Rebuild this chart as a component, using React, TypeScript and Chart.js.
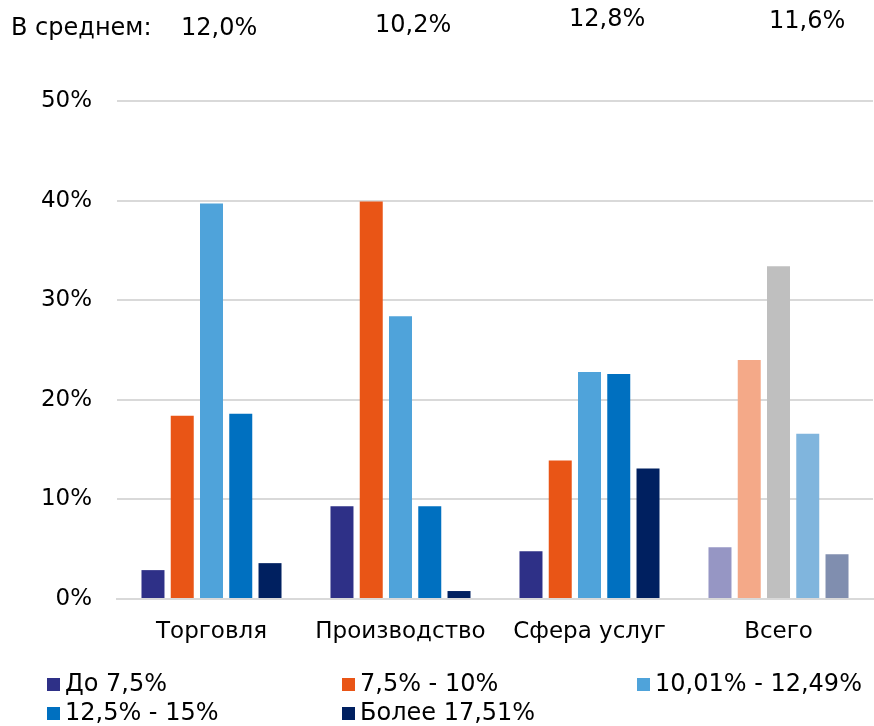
import React, { useEffect, useRef } from "react";
import { Chart, registerables } from "chart.js";

Chart.register(...registerables);

const categories = ["Торговля", "Производство", "Сфера услуг", "Всего"];
const seriesNames = ["До 7,5%", "7,5% - 10%", "10,01% - 12,49%", "12,5% - 15%", "Более 17,51%"];
const upTo75 = [2.9, 9.3, 4.8, 5.2];
const from75to10 = [18.4, 39.9, 13.9, 24.0];
const from1001to1249 = [39.7, 28.4, 22.8, 33.4];
const from125to15 = [18.6, 9.3, 22.6, 16.6];
const over1751 = [3.6, 0.8, 13.1, 4.5];
const averagesLabel = "В среднем:";
const averages = ["12,0%", "10,2%", "12,8%", "11,6%"];
const yTicks = [0, 10, 20, 30, 40, 50];

const mainColors = ["#2E3087", "#E95516", "#4FA3DA", "#0070C0", "#002060"];
const totalColors = ["#9696C4", "#F4A988", "#BFBFBF", "#80B5DD", "#808EAF"];

// layout (pixel positions of header/legend)
const headerLabelPos = { x: 11, y: 35 };
const averagePos = [
  { x: 181, y: 35 },
  { x: 375, y: 32 },
  { x: 569, y: 25.5 },
  { x: 769, y: 28 },
];
const legendPos = [
  { x: 47, y: 691 },
  { x: 342, y: 691 },
  { x: 637, y: 691 },
  { x: 47, y: 720 },
  { x: 342, y: 720 },
];

const FONT = "'DejaVu Sans', Verdana, sans-serif";

const overlayPlugin = {
  id: "overlayText",
  afterDraw(chart: any) {
    const ctx = chart.ctx;
    ctx.save();
    ctx.fillStyle = "#000000";
    ctx.textBaseline = "alphabetic";
    ctx.textAlign = "left";
    ctx.font = `24px ${FONT}`;
    ctx.fillText(averagesLabel, headerLabelPos.x, headerLabelPos.y);
    averages.forEach((t, i) => {
      ctx.fillText(t, averagePos[i].x, averagePos[i].y);
    });
    ctx.font = `24px ${FONT}`;
    seriesNames.forEach((name, i) => {
      const p = legendPos[i];
      ctx.fillStyle = mainColors[i];
      ctx.fillRect(p.x, p.y - 13, 13, 13);
      ctx.fillStyle = "#000000";
      ctx.fillText(name, p.x + 18, p.y);
    });
    ctx.restore();
  },
};

export default function App() {
  const ref = useRef<HTMLCanvasElement | null>(null);
  useEffect(() => {
    if (!ref.current) return;
    const seriesData = [upTo75, from75to10, from1001to1249, from125to15, over1751];
    const chart = new Chart(ref.current, {
      type: "bar",
      data: {
        labels: categories,
        datasets: seriesData.map((d, i) => ({
          label: seriesNames[i],
          data: d,
          backgroundColor: categories.map((_, j) => (j === categories.length - 1 ? totalColors[i] : mainColors[i])),
          borderWidth: 0,
          barPercentage: 0.786,
          categoryPercentage: 0.774,
        })),
      },
      options: {
        animation: false,
        responsive: false,
        maintainAspectRatio: false,
        layout: { padding: { top: 101, right: 1, left: 0, bottom: 0 } },
        plugins: { legend: { display: false }, tooltip: { enabled: false }, title: { display: false } },
        scales: {
          x: {
            grid: { display: false, drawTicks: false },
            border: { display: true, color: "#D9D9D9", width: 2 },
            ticks: { color: "#000000", font: { family: FONT, size: 23 }, padding: 19 },
            afterFit: (s: any) => {
              s.height = 127;
            },
          },
          y: {
            min: 0,
            max: 50,
            afterBuildTicks: (s: any) => {
              s.ticks = yTicks.map((v) => ({ value: v }));
            },
            grid: { color: "#D9D9D9", lineWidth: 2, drawTicks: false },
            border: { display: false },
            ticks: {
              color: "#000000",
              font: { family: FONT, size: 23 },
              padding: 25,
              callback: (v: any) => `${v}%`,
            },
            afterFit: (s: any) => {
              s.width = 117;
            },
          },
        },
      },
      plugins: [overlayPlugin],
    });
    return () => chart.destroy();
  }, []);
  return (
    <div style={{ position: "absolute", left: 0, top: 0, width: 874, height: 726, background: "#fff" }}>
      <canvas ref={ref} width={874} height={726} style={{ display: "block", width: 874, height: 726 }} />
    </div>
  );
}
